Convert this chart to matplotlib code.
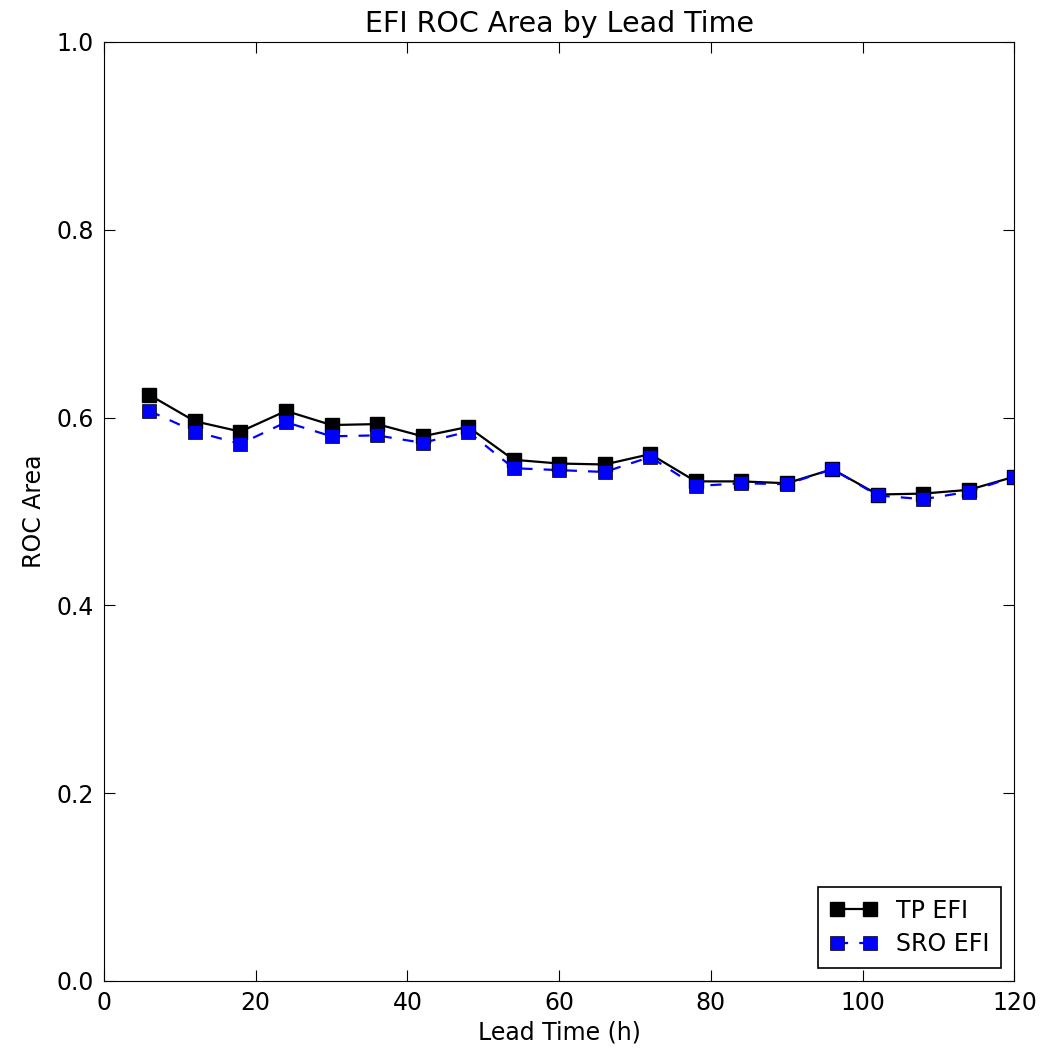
import matplotlib
matplotlib.use('Agg')
import matplotlib.pyplot as plt

lead_time = [6, 12, 18, 24, 30, 36, 42, 48, 54, 60, 66, 72, 78, 84, 90, 96, 102, 108, 114, 120]
tp_efi = [0.624, 0.596, 0.585, 0.607, 0.592, 0.593, 0.580, 0.590, 0.555, 0.551,
          0.550, 0.561, 0.532, 0.532, 0.530, 0.545, 0.518, 0.519, 0.523, 0.537]
sro_efi = [0.607, 0.585, 0.572, 0.595, 0.580, 0.581, 0.573, 0.585, 0.546, 0.544,
           0.542, 0.558, 0.527, 0.530, 0.529, 0.545, 0.517, 0.513, 0.521, 0.537]

fig = plt.figure(figsize=(10.6, 10.48), dpi=100)
ax = fig.add_axes([0.098, 0.064, 0.859, 0.896])

ax.plot(lead_time, tp_efi, color='black', marker='s', markersize=9.5, linewidth=1.6,
        markeredgecolor='black', label='TP EFI')
ax.plot(lead_time, sro_efi, color='blue', marker='s', markersize=9.5, linewidth=1.6,
        linestyle='--', dashes=(5, 5), markeredgecolor='black', markeredgewidth=0.5,
        label='SRO EFI')

ax.set_xlim(0, 120)
ax.set_ylim(0, 1.0)
ax.set_xticks(range(0, 121, 20))
ax.set_yticks([0.0, 0.2, 0.4, 0.6, 0.8, 1.0])
ax.tick_params(direction='in', top=True, right=True, length=8, labelsize=17, pad=7)
ax.set_xlabel('Lead Time (h)', fontsize=17, labelpad=4)
ax.set_ylabel('ROC Area', fontsize=17, labelpad=8)
ax.set_title('EFI ROC Area by Lead Time', fontsize=20.5, pad=7)

leg = ax.legend(loc='lower right', fontsize=17, fancybox=False, framealpha=1,
                edgecolor='black', borderpad=0.5, numpoints=2, handlelength=2.0,
                handletextpad=0.8, labelspacing=0.4, borderaxespad=0.55)
leg.get_frame().set_linewidth(1.2)

plt.savefig('out.png', dpi=100)
